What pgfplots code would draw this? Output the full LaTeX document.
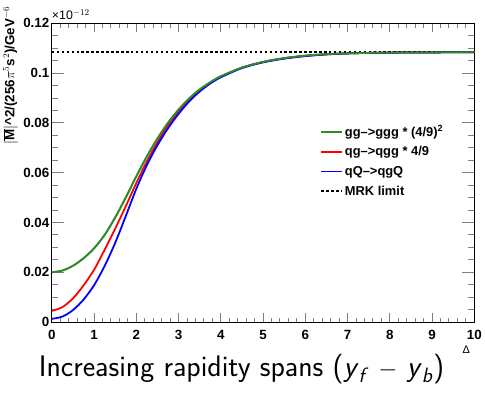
\documentclass[border=0pt]{standalone}
\usepackage{fontspec}
\setmainfont{Liberation Sans}
\usepackage{pgfplots}
\usepackage{pgfplotstable}
\pgfplotsset{compat=1.18}
\definecolor{rgreen}{RGB}{48,140,40}
\definecolor{rred}{RGB}{255,0,0}
\definecolor{rblue}{RGB}{0,0,255}
\pgfplotstableread{
x green red blue
0 0.0200 0.0045 0.0013
0.25 0.0207 0.0060 0.0022
0.5 0.0226 0.0095 0.0048
0.75 0.0256 0.0147 0.0090
1.0 0.0296 0.0210 0.0148
1.25 0.0350 0.0290 0.0225
1.5 0.0420 0.0375 0.0318
1.75 0.0500 0.0465 0.0425
2.0 0.0585 0.0558 0.0535
2.25 0.0665 0.0645 0.0630
2.5 0.0737 0.0722 0.0710
2.75 0.0800 0.0790 0.0778
3.0 0.0853 0.0846 0.0836
3.25 0.0898 0.0893 0.0886
3.5 0.0934 0.0931 0.0926
3.75 0.0963 0.0961 0.0958
4.0 0.0987 0.0985 0.0983
4.5 0.1022 0.1021 0.1020
5.0 0.1045 0.1044 0.1043
5.5 0.1060 0.1059 0.1058
6.0 0.1070 0.1069 0.1068
6.5 0.1076 0.1075 0.1075
7.0 0.1079 0.1079 0.1079
7.5 0.1081 0.1081 0.1081
8.0 0.1082 0.1082 0.1082
9.0 0.1083 0.1083 0.1083
10 0.1084 0.1084 0.1084
}\curves
\begin{document}
\begin{tikzpicture}
\begin{axis}[
  width=426.7pt, height=301.8pt, scale only axis,
  xmin=0, xmax=10, ymin=0, ymax=0.12,
  clip=false,
  axis line style={line width=1.1pt},
  tick align=inside,
  xtick={0,1,...,10},
  xticklabels={\textbf{0},\textbf{1},\textbf{2},\textbf{3},\textbf{4},\textbf{5},\textbf{6},\textbf{7},\textbf{8},\textbf{9},\textbf{10}},
  minor x tick num=4,
  ytick={0,0.02,0.04,0.06,0.08,0.1,0.12},
  yticklabels={\textbf{0},\textbf{0.02},\textbf{0.04},\textbf{0.06},\textbf{0.08},\textbf{0.1},\textbf{0.12}},
  minor y tick num=3,
  xtick style={line width=0.9pt,/pgfplots/major tick length=9pt,/pgfplots/minor tick length=4.5pt},
  ytick style={line width=0.9pt,/pgfplots/major tick length=12pt,/pgfplots/minor tick length=6pt},
  scaled y ticks=false,
  tick label style={font=\bfseries\fontsize{13.5}{15}\selectfont},
  xticklabel style={yshift=-5pt},
  yticklabel style={xshift=1pt},
  legend style={draw=none, fill=none, at={(rel axis cs:0.633,0.668)}, anchor=north west,
    font=\bfseries\fontsize{13}{15}\selectfont, row sep=5pt, inner sep=1pt},
  legend cell align=left,
  legend image code/.code={\path[draw,#1] (0pt,0pt) -- (21pt,0pt);},
]
\addplot[draw=rgreen, line width=1.8pt, smooth] table[x=x, y=green] {\curves};
\addlegendentry{gg{–}{>}ggg * (4/9)$^{\mathbf{2}}$}
\addplot[draw=rred, line width=1.8pt, smooth] table[x=x, y=red] {\curves};
\addlegendentry{qg{–}{>}qgg * 4/9}
\addplot[draw=rblue, line width=1.8pt, smooth] table[x=x, y=blue] {\curves};
\addlegendentry{qQ{–}{>}qgQ}
\addplot[draw=black, line width=1.5pt, dash pattern=on 2.5pt off 2.5pt] coordinates {(0,0.1085) (10,0.1085)};
\addlegendentry{MRK limit}
\addplot[draw=rgreen, line width=1.8pt, smooth, forget plot] table[x=x, y=green] {\curves};
\node[anchor=south west, inner sep=0pt, font=\fontsize{12.5}{14}\selectfont] at ([yshift=3pt]rel axis cs:0,1) {×10$^{-12}$};
\node[rotate=90, anchor=south east, inner sep=0pt, font=\bfseries\fontsize{13.5}{15}\selectfont] at ([xshift=-34pt,yshift=17pt]rel axis cs:0,1) {$|\overline{\mathbf{M}}|$\^{}2/(256$\pi^{5}$s$^{2}$)/GeV$^{-6}$};
\node[anchor=north, inner sep=0pt, font=\fontsize{11}{12}\selectfont] at (rel axis cs:0.981,-0.08) {Δ};
\node[anchor=base, inner sep=0pt, font=\sffamily\fontsize{30}{34}\selectfont] at (rel axis cs:0.449,-0.181) {Increasing rapidity spans (\textit{y}\textsubscript{\textit{f}} $-$ \textit{y}\textsubscript{\textit{b}})};
\path (rel axis cs:-0.1226,-0.2409) rectangle (rel axis cs:1.0141,1.0779);
\end{axis}
\end{tikzpicture}
\end{document}
